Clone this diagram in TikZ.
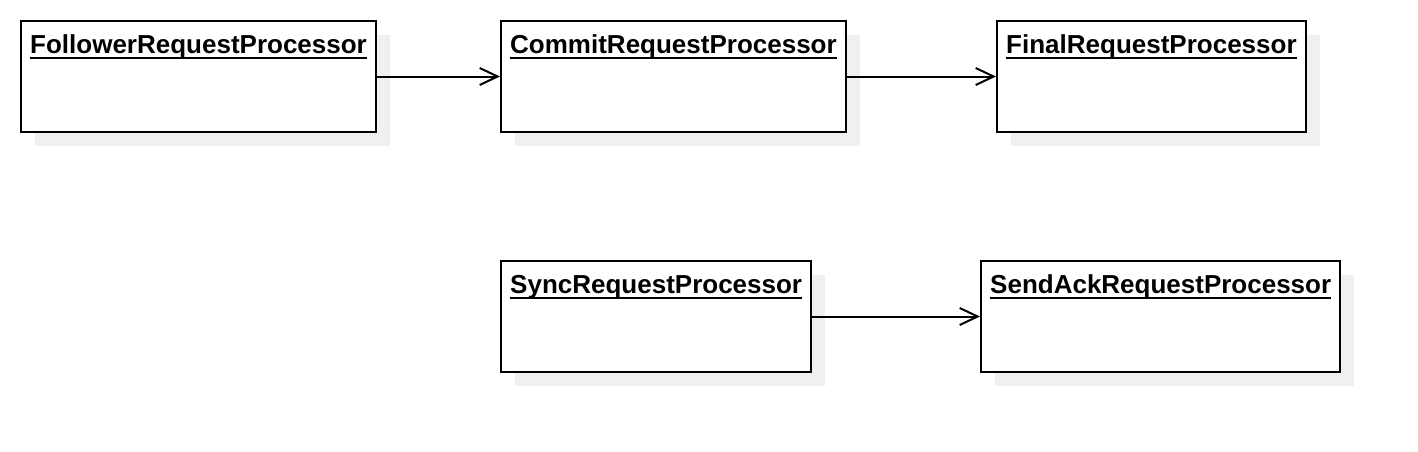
\documentclass[tikz,border=0pt]{standalone}
\usepackage{fontspec}
\setmainfont{Liberation Sans}
\usetikzlibrary{positioning,shadows,arrows.meta}
\newcommand\clsname[1]{\setbox0\hbox{#1}\rlap{\copy0}\rule[-6pt]{\wd0}{2pt}}

\begin{document}
\begin{tikzpicture}[x=1pt,y=-1pt,
          every node/.style={font=\fontsize{26}{30}\selectfont\bfseries},
          cls/.style={draw,line width=2pt,fill=white,anchor=north west,inner sep=0pt,minimum height=111pt,
            drop shadow={shadow xshift=14pt,shadow yshift=-14pt,fill=black!6,opacity=1}},
          ttl/.style={anchor=base west,inner sep=0pt},
          assoc/.style={line width=2pt,-{Straight Barb[length=18pt,width=17pt,line width=2pt]}},
        ]
        \useasboundingbox (0,0) rectangle (1418,452);
        \node[cls,minimum width=355pt] (fol) at (20,20)   {};
        \node[cls,minimum width=345pt] (com) at (500,20)  {};
        \node[cls,minimum width=309pt] (fin) at (996,20)  {};
        \node[cls,minimum width=310pt] (syn) at (500,260) {};
        \node[cls,minimum width=359pt] (ack) at (980,260) {};
        \node[ttl] (tfol) at ([shift={(10,33)}]fol.north west) {\clsname{FollowerRequestProcessor}};
        \node[ttl] (tcom) at ([shift={(10,33)}]com.north west) {\clsname{CommitRequestProcessor}};
        \node[ttl] (tfin) at ([shift={(10,33)}]fin.north west) {\clsname{FinalRequestProcessor}};
        \node[ttl] (tsyn) at ([shift={(10,33)}]syn.north west) {\clsname{SyncRequestProcessor}};
        \node[ttl] (tack) at ([shift={(10,33)}]ack.north west) {\clsname{SendAckRequestProcessor}};
        \draw[assoc] (fol) -- (com);
        \draw[assoc] (com) -- (fin);
        \draw[assoc] (syn) -- (ack);
      \end{tikzpicture}
\end{document}
